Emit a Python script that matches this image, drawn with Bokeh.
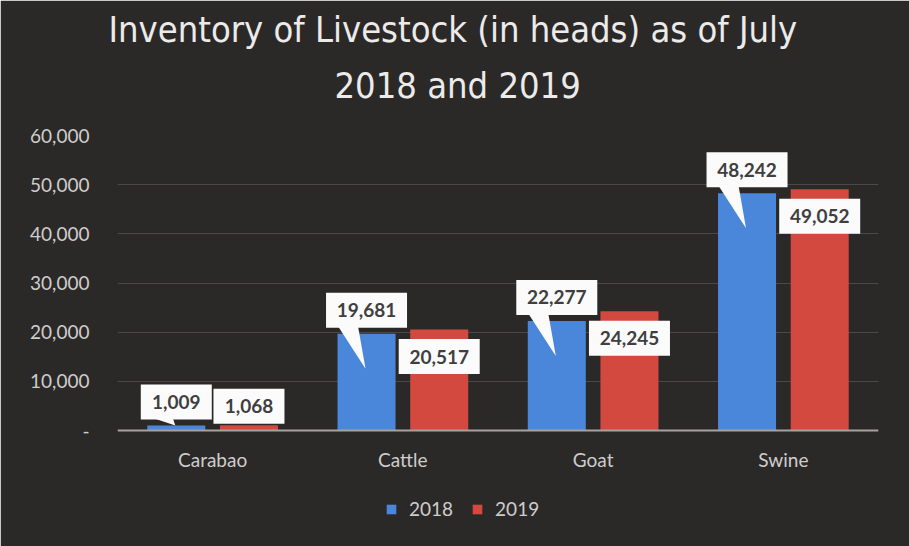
from bokeh.plotting import figure
from bokeh.models import (FactorRange, Range1d, Legend, LegendItem, Title,
                          NumeralTickFormatter, FixedTicker)
from bokeh.core.properties import value
from bokeh.embed import file_html
from bokeh.resources import INLINE

# ---------------- data ----------------
categories = ["Carabao", "Cattle", "Goat", "Swine"]
heads_2018 = [1009, 19681, 22277, 48242]
heads_2019 = [1068, 20517, 24245, 49052]
y_ticks = [0, 10000, 20000, 30000, 40000, 50000, 60000]
series_names = ["2018", "2019"]
title_line1 = "Inventory of Livestock (in heads) as of July"
title_line2 = "2018 and 2019"

# ---------------- style ----------------
W, H = 909, 546
L, R, T = 117, 31, 135
AX = 430                      # pixel row of the zero line
YMAX = 60000
fw = W - L - R
fh = H - T
ux = len(categories) / fw              # x data units per pixel
uy = YMAX / (AX - T)                   # y data units per pixel
YMIN = -(H - AX) * uy

BG = "#2b2928"
BLUE = "#4a87db"
RED = "#d3483f"
TXT = "#cfcdcc"
LABEL_TXT = "#3f3f3f"
FONT = "Lato"
TFONT = "DejaVu Sans Condensed"
OFF = 0.191
BAR_W = 0.305

p = figure(frame_width=fw, frame_height=fh, x_range=FactorRange(factors=categories),
           y_range=Range1d(YMIN, YMAX), output_backend="svg", toolbar_location=None,
           min_border_left=L, min_border_right=R, min_border_top=T, min_border_bottom=0)
p.background_fill_color = BG
p.border_fill_color = BG
p.outline_line_color = BG
p.outline_line_width = 2

xb = [i + 0.5 - OFF for i in range(len(categories))]
xr = [i + 0.5 + OFF for i in range(len(categories))]

r1 = p.vbar(x=xb, top=heads_2018, width=BAR_W, fill_color=BLUE, line_color=None)
r2 = p.vbar(x=xr, top=heads_2019, width=BAR_W, fill_color=RED, line_color=None)

# data labels
def fmt(v):
    return f"{v:,}"

bt = [fmt(v) for v in heads_2018]
rt = [fmt(v) for v in heads_2019]
bw = [10 * len(t) + 21 for t in bt]
rw = [10 * len(t) + 21 for t in rt]
by = [v + 23.5 * uy for v in heads_2018]
ry = [v - 27 * uy if v > 10000 else v + 19 * uy for v in heads_2019]

# callout pointers for 2018 labels
xs, ys = [], []
for cx, cy, w, v in zip(xb, by, bw, heads_2018):
    yb = cy - 16 * uy
    tip = v - 35 * uy if v > 10000 else v
    xs.append([cx + (-w / 2 + 12) * ux, cx + (-w / 2 + 32) * ux, cx - 1 * ux])
    ys.append([yb, yb, tip])
p.patches(xs=xs, ys=ys, fill_color="#fbfbfb", line_color=None)

p.rect(x=xb, y=by, width=bw, height=35, width_units="screen", height_units="screen",
       fill_color="#fbfbfb", line_color=None)
p.rect(x=xr, y=ry, width=rw, height=35, width_units="screen", height_units="screen",
       fill_color="#fbfbfb", line_color=None)
p.text(x=xb, y=by, text=bt, text_align="center", text_baseline="middle",
       text_font=value(FONT), text_font_style="bold", text_font_size="19px", text_color=LABEL_TXT)
p.text(x=xr, y=ry, text=rt, text_align="center", text_baseline="middle",
       text_font=value(FONT), text_font_style="bold", text_font_size="19px", text_color=LABEL_TXT)

# axes
p.yaxis.ticker = FixedTicker(ticks=y_ticks)
p.yaxis.formatter = NumeralTickFormatter(format="0,0")
p.yaxis.major_label_overrides = {0: "-"}
p.yaxis.axis_line_color = None
p.yaxis.major_tick_line_color = None
p.yaxis.minor_tick_line_color = None
p.yaxis.major_label_standoff = 22
p.yaxis.major_label_text_color = TXT
p.yaxis.major_label_text_font = FONT
p.yaxis.major_label_text_font_size = "19px"

p.xaxis.fixed_location = 0
p.xaxis.axis_line_color = "#a5a2a0"
p.xaxis.axis_line_width = 2
p.xaxis.major_tick_line_color = None
p.xaxis.minor_tick_line_color = None
p.xaxis.major_label_standoff = 11
p.xaxis.major_label_text_color = TXT
p.xaxis.major_label_text_font = FONT
p.xaxis.major_label_text_font_size = "19px"

p.xgrid.grid_line_color = None
p.ygrid.grid_line_color = "#4b4847"
p.ygrid.grid_line_width = 1

# legend (inside the extended frame, below the category labels)
legend = Legend(items=[LegendItem(label=series_names[0], renderers=[r1]),
                       LegendItem(label=series_names[1], renderers=[r2])],
                orientation="horizontal", location=(262, 20),
                background_fill_alpha=0, border_line_alpha=0,
                glyph_width=12, glyph_height=12, label_standoff=12, spacing=18,
                label_text_font=FONT, label_text_font_size="19px", label_text_color=TXT,
                margin=0, padding=6)
p.add_layout(legend, "center")

# title (two lines)
t2 = Title(text=title_line2, align="left", text_font=TFONT, offset=217,
           text_font_size="36px", text_font_style="normal", text_color="#ecebea",
           standoff=59, text_line_height=0.95)
t1 = Title(text=title_line1, align="left", text_font=TFONT, offset=-9,
           text_font_size="36px", text_font_style="normal", text_color="#ecebea",
           standoff=-33)
p.add_layout(t2, "above")
p.add_layout(t1, "above")

open("out.html", "w").write(file_html(p, INLINE))
